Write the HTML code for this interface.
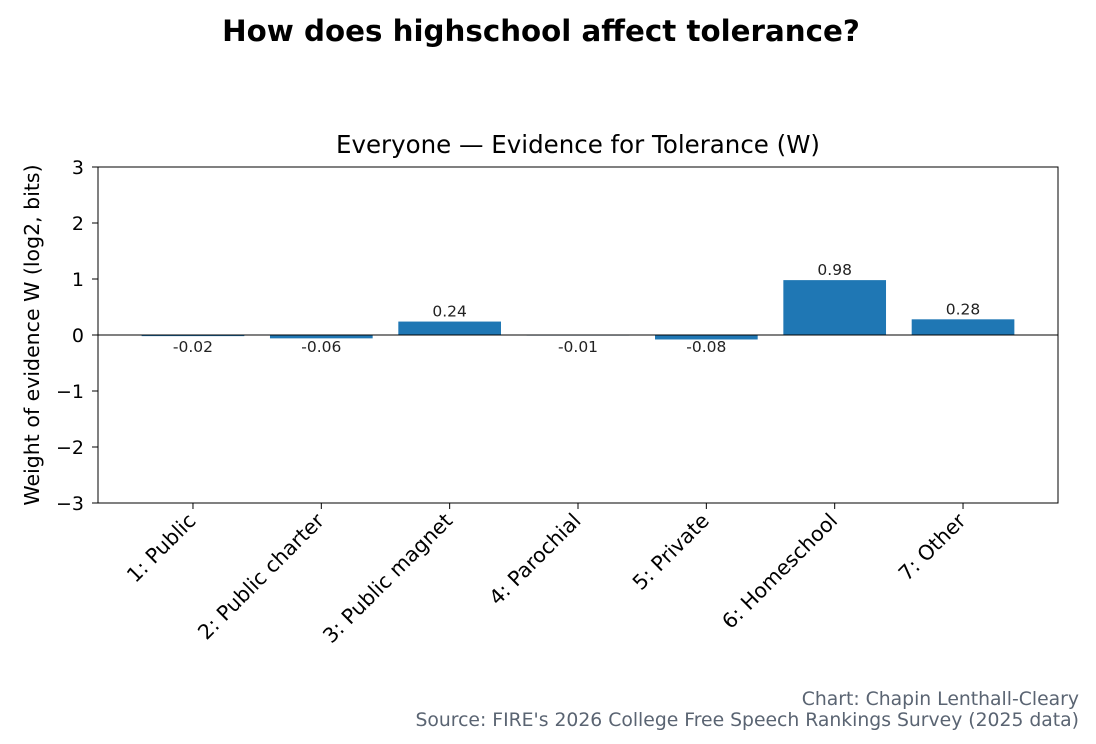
<!DOCTYPE html>
<html><head><meta charset="utf-8"><style>
body{margin:0;background:#fff;width:1096px;height:740px;overflow:hidden;font-family:"DejaVu Sans","Liberation Sans",sans-serif}
</style></head><body>
<svg width="1096" height="740" xmlns="http://www.w3.org/2000/svg" font-family="DejaVu Sans, Liberation Sans, sans-serif">
<text x="541" y="41" text-anchor="middle" font-size="29.3" font-weight="bold">How does highschool affect tolerance?</text>
<text x="578" y="153" text-anchor="middle" font-size="24.5">Everyone — Evidence for Tolerance (W)</text>
<text transform="translate(39,335) rotate(-90)" text-anchor="middle" font-size="20.5">Weight of evidence W (log2, bits)</text>
<g id="plot"></g>
<text x="1079" y="705" text-anchor="end" font-size="18.8" fill="#5a6472">Chart: Chapin Lenthall-Cleary</text>
<text x="1079" y="726" text-anchor="end" font-size="18.8" fill="#5a6472">Source: FIRE's 2026 College Free Speech Rankings Survey (2025 data)</text>
</svg>
<script>
const categories=["1: Public","2: Public charter","3: Public magnet","4: Parochial","5: Private","6: Homeschool","7: Other"];
const values=[-0.02,-0.06,0.24,-0.01,-0.08,0.98,0.28];
const valueLabels=["-0.02","-0.06","0.24","-0.01","-0.08","0.98","0.28"];
const yTicks=[-3,-2,-1,0,1,2,3];
const yTickLabels=["\u22123","\u22122","\u22121","0","1","2","3"];
const L=98,R=1058,T=167,B=503;
const NS="http://www.w3.org/2000/svg";
const xmin=-0.74,xmax=categories.length-1+0.74;
const x=i=>L+(i-xmin)/(xmax-xmin)*(R-L);
const y=v=>B-(v+3)/6*(B-T);
const bw=0.8*(R-L)/(xmax-xmin);
const g=document.getElementById('plot');
function mk(t,a){const e=document.createElementNS(NS,t);for(const k in a)e.setAttribute(k,a[k]);g.appendChild(e);return e;}
values.forEach((v,i)=>{
 const r=mk('rect',{x:x(i)-bw/2,y:Math.min(y(v),y(0)),width:bw,height:Math.max(Math.abs(y(v)-y(0)),0.5),fill:'#1f77b4'});
 
 
 const t=mk('text',{x:x(i),y:v>=0?y(v)-5:y(0)+17,'text-anchor':'middle','font-size':15.5,fill:'#222'});
 t.textContent=valueLabels[i];
 
 
 const tk=mk('line',{x1:x(i),x2:x(i),y1:B,y2:B+6,stroke:'#000','stroke-width':1});
 
 
 const xl=mk('text',{transform:`translate(${x(i)+4},${B+19}) rotate(-45)`,'text-anchor':'end','font-size':20.5});
 xl.textContent=categories[i];
 
 
});
yTicks.forEach((v,i)=>{
 const tk=mk('line',{x1:L-6,x2:L,y1:y(v),y2:y(v),stroke:'#000','stroke-width':1});
 
 
 const t=mk('text',{x:L-14,y:y(v)+7,'text-anchor':'end','font-size':19});
 t.textContent=yTickLabels[i];
 
 
});
const zl=mk('line',{x1:L,x2:R,y1:y(0),y2:y(0),stroke:'#000','stroke-width':1});


const fr=mk('rect',{x:L,y:T,width:R-L,height:B-T,fill:'none',stroke:'#000','stroke-width':1});


</script>
</body></html>
